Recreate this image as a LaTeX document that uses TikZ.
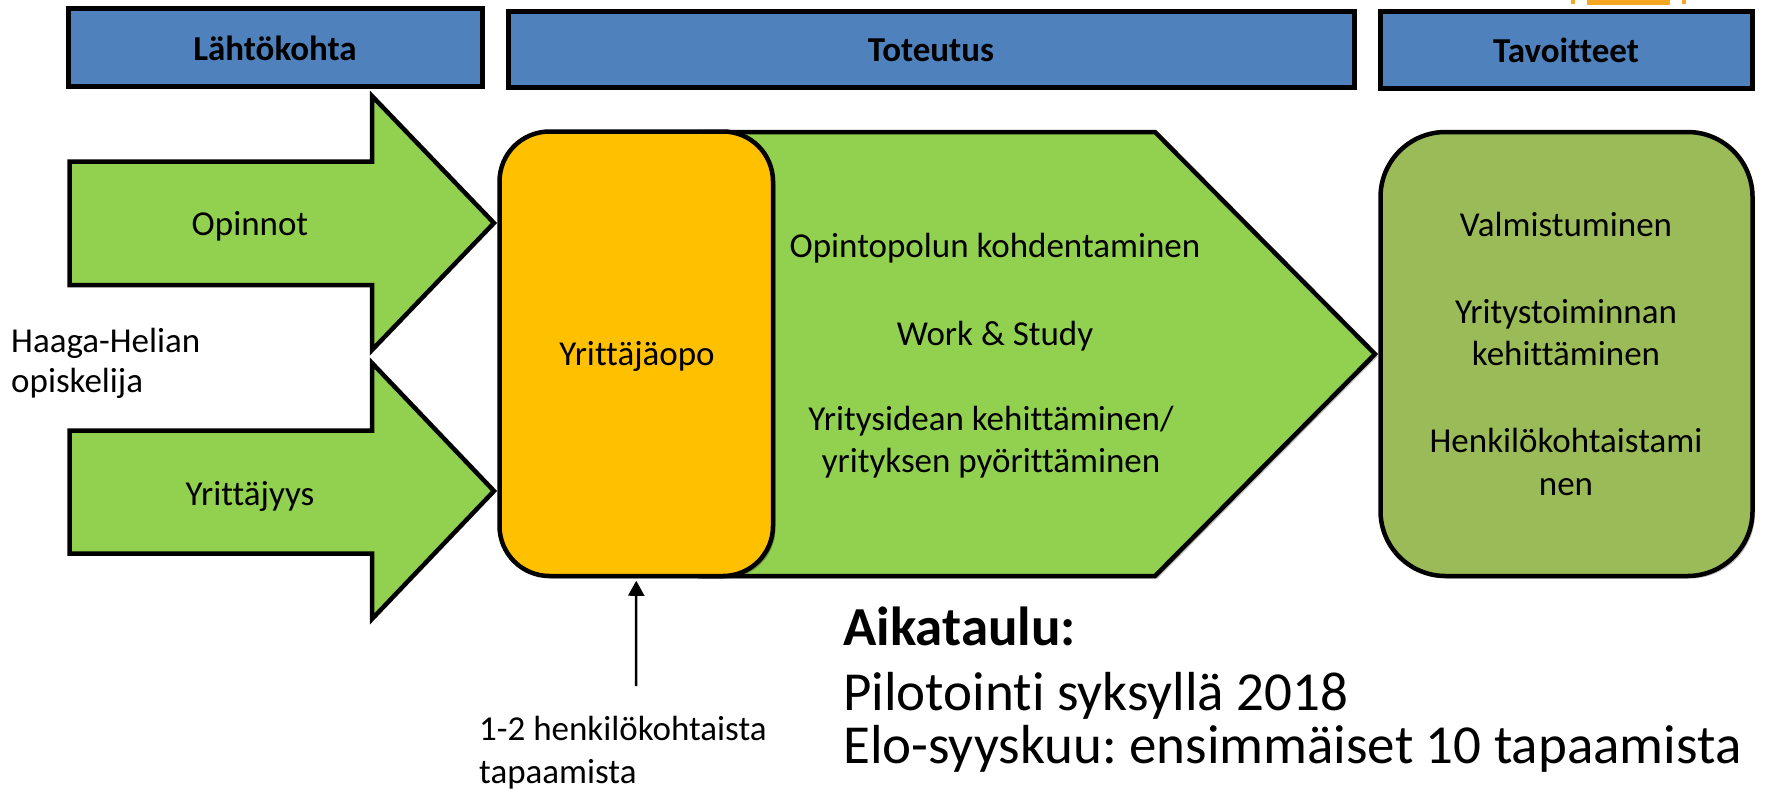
\documentclass[tikz,border=0pt]{standalone}
\usepackage{fontspec}
\setmainfont{Carlito}[Ligatures=NoCommon]
\frenchspacing
\usetikzlibrary{arrows.meta,shadows}
\definecolor{hdrblue}{HTML}{4F81BD}
\definecolor{arrgreen}{HTML}{92D050}
\definecolor{opoorange}{HTML}{FFC000}
\definecolor{goalgreen}{HTML}{9BBB59}
\definecolor{iconorange}{HTML}{F5A623}
\begin{document}
\begin{tikzpicture}[x=1pt,y=-1pt,
  shp/.style={draw=black,line width=4.5pt,line join=miter},
  shd/.style={drop shadow={shadow xshift=2.5pt,shadow yshift=-2.5pt,opacity=.25,fill=black}},
  hdr/.style={shp,shd,fill=hdrblue,rectangle,inner sep=0pt},
  txt/.style={inner sep=0pt,font=\fontsize{35}{42}\selectfont},
  btxt/.style={inner sep=0pt,font=\fontsize{35}{42}\selectfont\bfseries},
  big/.style={inner sep=0pt,anchor=base west,font=\fontsize{55}{64}\selectfont},
]
\useasboundingbox (0,0) rectangle (1768,788);

% partial orange icon at the top edge
\fill[iconorange] (1587,0) rectangle (1670,4.5);
\fill[iconorange] (1571,0) rectangle (1575,4);
\fill[iconorange] (1682,0) rectangle (1686,4);

% header bars
\node[hdr,minimum width=414pt,minimum height=78pt] (hL) at (275.5,47.5) {};
\node[hdr,minimum width=846pt,minimum height=76pt] (hT) at (931.5,49.5) {};
\node[hdr,minimum width=372pt,minimum height=77pt] (hG) at (1566.5,50) {};
\node[btxt,anchor=base] (hLt) at (275,60) {Lähtökohta};
\node[btxt,anchor=base] (hTt) at (931,61) {Toteutus};
\node[btxt,anchor=base] (hGt) at (1566,62) {Tavoitteet};

% input arrows
\draw[shp,fill=arrgreen] (69.5,161.5) -- (372,161.5) -- (372,96) -- (494,223) -- (372,350) -- (372,285) -- (69.5,285) -- cycle;
\draw[shp,fill=arrgreen] (69.5,430.5) -- (372,430.5) -- (372,363) -- (494,491) -- (372,619) -- (372,553.5) -- (69.5,553.5) -- cycle;
\node[txt,anchor=base] (op) at (250,235) {Opinnot};
\node[txt,anchor=base] (yr) at (250,505) {Yrittäjyys};
\node[txt,anchor=base west] (hh1) at (11,352) {Haaga-Helian};
\node[txt,anchor=base west] (hh2) at (11,392) {opiskelija};

% implementation pentagon
\draw[shp,shd,fill=arrgreen] (700,132) -- (1155,132) -- (1375,354) -- (1155,576) -- (700,576) -- cycle;
\node[txt,anchor=base] (p1) at (995,257) {Opintopolun kohdentaminen};
\node[txt,anchor=base] (p2) at (995,345) {Work \& Study};
\node[txt,anchor=base] (p3) at (991,430) {Yritysidean kehittäminen/};
\node[txt,anchor=base] (p4) at (991,472) {yrityksen pyörittäminen};

% orange box
\node[shp,shd,fill=opoorange,rounded corners=50pt,minimum width=273.5pt,minimum height=444.5pt,inner sep=0pt] (opo) at (636.25,353.75) {};
\node[txt,anchor=base] (opot) at (637,365) {Yrittäjäopo};

% goals box
\node[shp,shd,fill=goalgreen,rounded corners=65pt,minimum width=372pt,minimum height=444pt,inner sep=0pt] (goal) at (1566.5,354) {};
\node[txt,anchor=base] (g1) at (1566,236) {Valmistuminen};
\node[txt,anchor=base] (g2) at (1566,323) {Yritystoiminnan};
\node[txt,anchor=base] (g3) at (1566,365) {kehittäminen};
\node[txt,anchor=base] (g4) at (1566,452) {Henkilökohtaistami};
\node[txt,anchor=base] (g5) at (1566,495) {nen};

% meetings arrow
\node[txt,anchor=base west] (m1) at (479,740) {1-2 henkilökohtaista};
\node[txt,anchor=base west] (m2) at (479,783) {tapaamista};
\coordinate (cstart) at (636,686);
\draw[line width=2.5pt,-{Triangle[width=16pt,length=15pt]},shorten >=2.5pt] (cstart) -- (opo.south);

% schedule
\node[big,font=\fontsize{55}{64}\selectfont\bfseries] (ak) at (843,645) {Aikataulu:};
\node[big] (pi) at (843,710) {Pilotointi syksyllä 2018};
\node[big] (el) at (843,763) {Elo-syyskuu: ensimmäiset 10 tapaamista};
\end{tikzpicture}
\end{document}
